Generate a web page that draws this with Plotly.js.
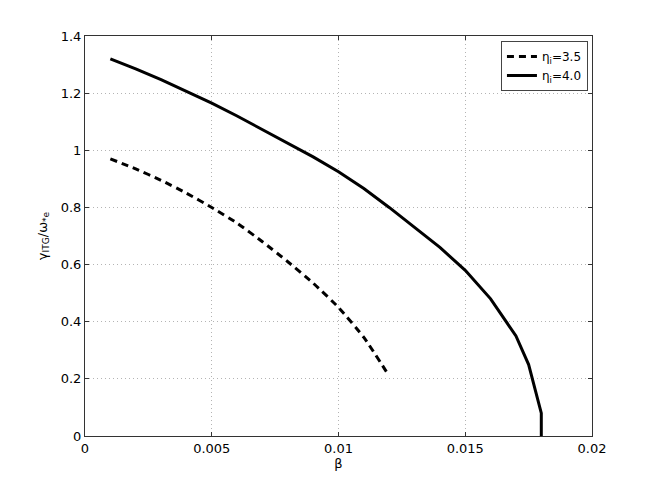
<!DOCTYPE html>
<html>
<head>
<meta charset="utf-8">
<script src="https://cdn.plot.ly/plotly-3.0.1.min.js"></script>
<style>html,body{margin:0;padding:0;background:#fff;}</style>
</head>
<body>
<div id="chart" style="width:654px;height:491px;"></div>
<script>
// eta_i = 3.5 (dashed)
const beta35 = [0.001, 0.002, 0.003, 0.004, 0.005, 0.006, 0.007, 0.008, 0.009, 0.010, 0.011, 0.012];
const gamma35 = [0.97, 0.935, 0.895, 0.85, 0.80, 0.745, 0.68, 0.61, 0.535, 0.45, 0.345, 0.21];
// eta_i = 4.0 (solid)
const beta40 = [0.001, 0.002, 0.003, 0.004, 0.005, 0.006, 0.007, 0.008, 0.009, 0.010, 0.011, 0.012, 0.013, 0.014, 0.015, 0.016, 0.017, 0.0175, 0.018, 0.018];
const gamma40 = [1.32, 1.285, 1.247, 1.207, 1.165, 1.12, 1.073, 1.025, 0.977, 0.925, 0.866, 0.80, 0.73, 0.66, 0.58, 0.48, 0.35, 0.25, 0.08, 0.0];
const seriesNames = ["η<sub>i</sub>=3.5", "η<sub>i</sub>=4.0"];
const xTicks = [0, 0.005, 0.01, 0.015, 0.02];
const yTicks = [0, 0.2, 0.4, 0.6, 0.8, 1, 1.2, 1.4];

const font = "DejaVu Sans, Liberation Sans, Arial, sans-serif";
const traces = [
  {x: beta35, y: gamma35, name: seriesNames[0], mode: "lines",
   line: {color: "#000", width: 3, dash: "7px,5px", shape: "spline", smoothing: 0.5}},
  {x: beta40, y: gamma40, name: seriesNames[1], mode: "lines",
   line: {color: "#000", width: 3}}
];
const axisCommon = {
  showline: true, linecolor: "#333", linewidth: 1, mirror: "ticks",
  ticks: "inside", ticklen: 4, tickcolor: "#333",
  showgrid: true, gridcolor: "#b4b4b4", griddash: "1px,3px", gridwidth: 1,
  zeroline: false, tickfont: {family: font, size: 13, color: "#000"}
};
const layout = {
  width: 654, height: 491,
  margin: {l: 85, r: 62, t: 36, b: 55},
  paper_bgcolor: "#fff", plot_bgcolor: "#fff",
  showlegend: true,
  legend: {x: 0.992, y: 0.9875, xanchor: "right", yanchor: "top",
    bgcolor: "#fff", bordercolor: "#444", borderwidth: 1,
    font: {family: font, size: 12, color: "#000"}, itemwidth: 30,
    tracegroupgap: 0},
  xaxis: Object.assign({}, axisCommon, {
    range: [0, 0.02], tickvals: xTicks, ticktext: xTicks.map(String),
    title: {text: "β", font: {family: font, size: 13, color: "#000"}, standoff: 0}
  }),
  yaxis: Object.assign({}, axisCommon, {
    range: [0, 1.4], tickvals: yTicks, ticktext: yTicks.map(String),
    title: {text: "γ<sub>ITG</sub>/ω<sub>*e</sub>", font: {family: font, size: 13, color: "#000"}, standoff: 10}
  })
};
Plotly.newPlot("chart", traces, layout, {displayModeBar: false, staticPlot: true});
</script>
</body>
</html>
